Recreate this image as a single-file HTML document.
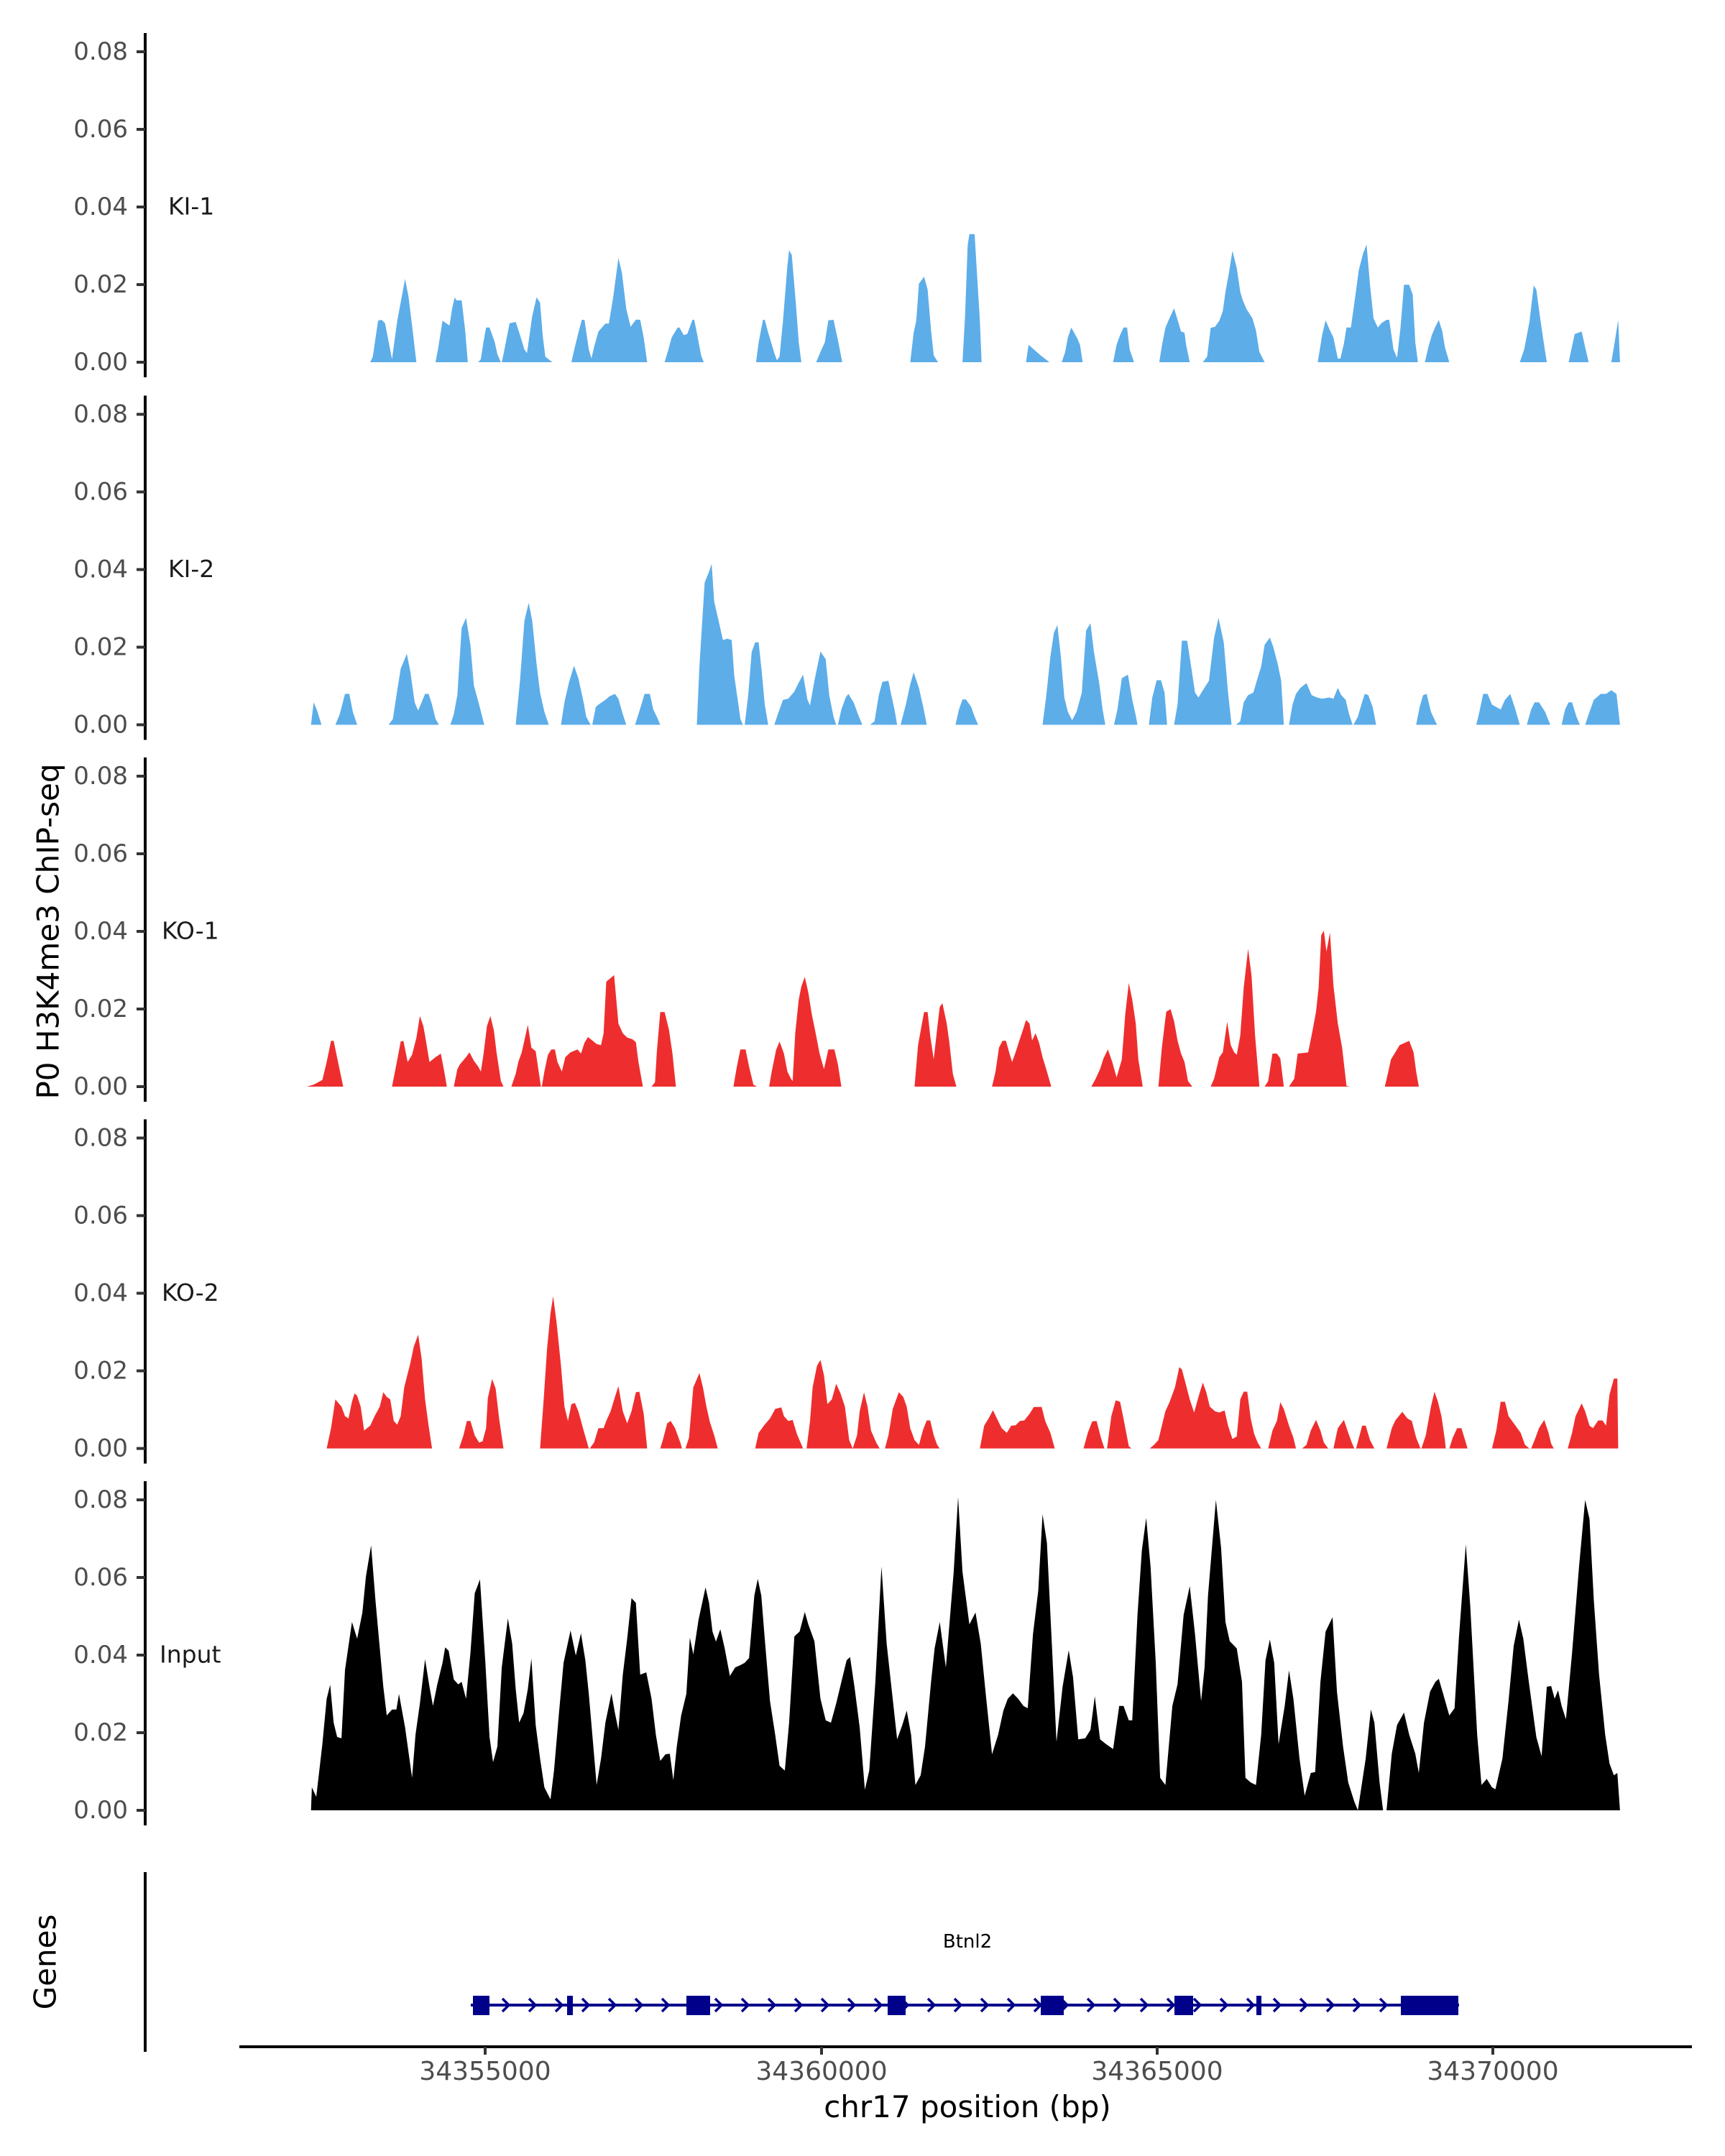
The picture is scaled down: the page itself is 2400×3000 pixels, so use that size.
<!DOCTYPE html>
<html><head><meta charset="utf-8"><style>
html,body{margin:0;padding:0;background:#fff;}
svg{display:block;font-family:"DejaVu Sans","Liberation Sans",sans-serif;}
</style></head><body>
<svg id="s" width="2400" height="3000" viewBox="0 0 2400 3000" xmlns="http://www.w3.org/2000/svg">
<rect width="2400" height="3000" fill="#fff"/>
<g id="data"></g>
<g id="axes"></g>
<text x="67" y="1296" font-size="42" fill="#000" text-anchor="middle" dominant-baseline="central" transform="rotate(-90 67 1296)">P0 H3K4me3 ChIP-seq</text>
<text x="63" y="2730" font-size="42" fill="#000" text-anchor="middle" dominant-baseline="central" transform="rotate(-90 63 2730)">Genes</text>
<line x1="202" y1="2605" x2="202" y2="2855" stroke="#000" stroke-width="4"/>
<line x1="333" y1="2848" x2="2354" y2="2848" stroke="#000" stroke-width="4"/>
<g stroke="#333" stroke-width="4">
<line x1="675" y1="2848" x2="675" y2="2859"/><line x1="1143" y1="2848" x2="1143" y2="2859"/>
<line x1="1610" y1="2848" x2="1610" y2="2859"/><line x1="2077" y1="2848" x2="2077" y2="2859"/>
</g>
<g font-size="36" fill="#4d4d4d" text-anchor="middle">
<text x="675" y="2894">34355000</text><text x="1143" y="2894">34360000</text>
<text x="1610" y="2894">34365000</text><text x="2077" y="2894">34370000</text>
</g>
<text x="1346" y="2946" font-size="42" fill="#000" text-anchor="middle">chr17 position (bp)</text>
<text x="1346" y="2710" font-size="26" fill="#000" text-anchor="middle">Btnl2</text>
<g id="gene"></g>
</svg>
<script>
var NS="http://www.w3.org/2000/svg";
function el(p,t,a){var e=document.createElementNS(NS,t);for(var k in a)e.setAttribute(k,a[k]);p.appendChild(e);return e;}
var zeros=[504,1008.5,1512,2015.5,2519];
var names=["KI-1","KI-2","KO-1","KO-2","Input"];
var lx=[234,234,225,225,222];
var ax=document.getElementById("axes");
zeros.forEach(function(Z,i){
 el(ax,"line",{x1:202,y1:Z-458,x2:202,y2:Z+21,stroke:"#000","stroke-width":4});
 for(var k=0;k<5;k++){var y=Z-k*108;
  el(ax,"line",{x1:190,y1:y,x2:202,y2:y,stroke:"#333","stroke-width":4});
  var t=el(ax,"text",{x:178,y:y,"font-size":34,fill:"#4d4d4d","text-anchor":"end","dominant-baseline":"central"});
  t.textContent=(k*0.02).toFixed(2);}
 var t2=el(ax,"text",{x:lx[i],y:Z-217,"font-size":33,fill:"#1a1a1a","dominant-baseline":"central"});
 t2.textContent=names[i];
});
function P(s){return s.match(/-?\d+(\.\d+)?/g).map(Number);}
function draw(segs,zz,Z,col){
 var g=document.getElementById("data");
 segs.forEach(function(s){var n=P(s);var d="";
  for(var i=0;i<n.length;i+=2){var X=400+n[i]/0.8253,Y=Z-(zz-n[i+1])/3;d+=(i?"L":"M")+X.toFixed(1)+","+Y.toFixed(1);}
  el(g,"path",{d:d+"Z",fill:col});});
}
var BL="#5dade9",RD="#ee2e2e";
draw([
"(95,613),(98,590),(104,440),(108,436),(112,450),(120,600),(126,440),(135,265),(139,340),(144,490),(148,613)",
"(170,613),(173,555),(178,440),(186,460),(189,390),(192,342),(194,355),(200,355),(204,480),(207,613)",
"(219,613),(222,600),(225,530),(228,468),(232,468),(238,530),(241,580),(245,613)",
"(246,613),(248,580),(255,450),(262,445),(267,500),(272,560),(275,575),(281,420),(286,342),(290,365),(293,500),(296,590),(304,613)",
"(326,613),(329,565),(334,490),(338,436),(341,436),(346,560),(349,597),(352,550),(357,485),(365,452),(369,452),(374,340),(380,178),(384,240),(389,390),(394,465),(400,435),(405,436),(409,510),(413,613)",
"(433,613),(437,565),(441,510),(448,468),(450,468),(455,500),(459,495),(465,436),(467,436),(470,490),(475,585),(478,613)",
"(538,613),(541,530),(546,436),(548,436),(552,490),(559,575),(562,605),(565,590),(569,440),(574,210),(576,145),(579,165),(584,380),(587,530),(590,613)",
"(607,613),(612,570),(617,530),(621,438),(627,436),(632,520),(637,613)",
"(715,613),(719,490),(722,440),(725,285),(731,256),(735,310),(739,480),(742,585),(747,613)",
"(775,613),(778,420),(781,125),(783,78),(789,78),(791,200),(795,440),(797,613)",
"(848,613),(851,540),(857,560),(865,585),(875,613)",
"(889,613),(893,570),(896,510),(900,468),(907,515),(910,540),(913,613)",
"(948,613),(952,540),(956,500),(960,468),(964,468),(967,560),(972,613)",
"(1001,613),(1004,545),(1008,470),(1012,435),(1018,388),(1022,435),(1026,485),(1030,490),(1032,545),(1036,613)",
"(1051,613),(1056,590),(1060,470),(1065,465),(1070,440),(1074,400),(1077,320),(1081,240),(1085,148),(1090,220),(1094,320),(1097,355),(1101,390),(1108,430),(1112,480),(1116,570),(1122,613)",
"(1183,613),(1188,500),(1192,438),(1197,480),(1201,510),(1206,598),(1209,598),(1213,535),(1216,468),(1221,468),(1226,340),(1230,230),(1235,160),(1239,122),(1243,290),(1247,430),(1252,468),(1256,450),(1262,436),(1265,436),(1270,560),(1274,595),(1278,470),(1282,290),(1288,290),(1292,330),(1295,530),(1298,613)",
"(1306,613),(1310,550),(1314,500),(1318,465),(1322,437),(1326,485),(1329,550),(1334,613)",
"(1415,613),(1420,560),(1426,445),(1431,292),(1434,310),(1438,420),(1443,545),(1446,613)",
"(1471,613),(1476,530),(1478,495),(1486,485),(1490,550),(1494,613)",
"(1520,613),(1523,550),(1528,437),(1530,613)"],613,zeros[0],BL);
draw([
"(27,684),(30,590),(34,625),(39,684)",
"(55,684),(60,640),(66,555),(71,555),(75,630),(80,684)",
"(116,684),(121,660),(126,540),(130,450),(137,388),(141,460),(146,590),(150,625),(154,590),(158,555),(162,555),(166,600),(170,660),(174,684)",
"(187,684),(191,640),(195,560),(200,280),(205,238),(210,350),(214,520),(220,600),(226,684)",
"(262,684),(267,500),(272,250),(277,175),(281,250),(286,430),(290,550),(295,630),(300,684)",
"(314,684),(318,590),(323,510),(329,437),(334,490),(340,590),(343,650),(348,684)",
"(350,684),(354,610),(357,600),(365,580),(370,565),(376,555),(380,575),(385,640),(389,684)",
"(399,684),(403,640),(408,580),(410,555),(416,555),(420,620),(424,650),(428,684)",
"(470,684),(473,440),(479,90),(484,45),(487,12),(490,170),(495,250),(500,330),(505,325),(510,330),(513,480),(517,580),(520,660),(523,684)",
"(525,684),(529,560),(533,380),(537,340),(541,340),(545,480),(548,600),(552,684)",
"(559,684),(563,640),(569,580),(575,575),(582,545),(586,515),(592,475),(597,580),(600,603),(605,500),(612,378),(618,410),(622,560),(627,650),(630,684)",
"(632,684),(636,620),(641,570),(644,555),(650,590),(655,640),(660,684)",
"(669,684),(674,670),(679,560),(683,505),(690,500),(693,555),(697,620),(700,684)",
"(704,684),(710,600),(715,515),(719,465),(725,530),(730,610),(734,684)",
"(767,684),(771,620),(775,578),(779,578),(785,610),(789,650),(793,684)",
"(867,684),(871,570),(876,400),(880,300),(884,268),(888,400),(892,570),(896,630),(901,665),(906,630),(912,550),(917,290),(922,260),(926,380),(932,510),(936,620),(939,684)",
"(949,684),(953,620),(958,490),(965,475),(970,580),(974,645),(976,684)",
"(989,684),(993,570),(998,498),(1003,498),(1007,550),(1010,684)",
"(1018,684),(1022,600),(1027,333),(1033,333),(1038,450),(1042,550),(1046,570),(1052,535),(1058,500),(1064,320),(1069,238),(1075,340),(1080,550),(1084,684)",
"(1089,684),(1094,670),(1098,590),(1103,560),(1109,550),(1113,500),(1118,440),(1122,350),(1128,320),(1132,360),(1137,430),(1141,500),(1144,684)",
"(1150,684),(1154,600),(1158,555),(1163,530),(1170,510),(1176,560),(1182,570),(1188,575),(1196,570),(1201,575),(1206,530),(1210,560),(1215,580),(1219,640),(1223,684)",
"(1224,684),(1229,650),(1233,600),(1237,555),(1241,560),(1246,610),(1250,684)",
"(1296,684),(1300,610),(1304,560),(1308,555),(1313,630),(1318,670),(1320,684)",
"(1365,684),(1368,640),(1373,555),(1378,555),(1383,600),(1393,620),(1398,580),(1404,555),(1409,610),(1415,684)",
"(1423,684),(1428,620),(1432,590),(1437,590),(1444,630),(1450,684)",
"(1463,684),(1467,620),(1471,590),(1475,590),(1480,650),(1484,684)",
"(1490,684),(1495,630),(1500,580),(1508,555),(1514,555),(1520,540),(1526,555),(1530,684)"],684,zeros[1],BL);
draw([
"(22,663),(30,655),(40,635),(45,560),(50,472),(53,472),(58,560),(64,663)",
"(120,663),(125,570),(130,475),(133,472),(138,560),(143,530),(148,460),(152,368),(156,410),(158,450),(163,560),(170,540),(176,525),(180,600),(183,663)",
"(191,663),(195,590),(198,570),(205,540),(209,520),(214,555),(219,580),(222,600),(225,530),(229,410),(233,368),(237,430),(240,520),(245,640),(248,663)",
"(257,663),(262,610),(265,560),(269,520),(272,470),(276,405),(280,500),(285,515),(288,590),(291,663)",
"(292,663),(295,600),(299,530),(303,508),(307,508),(310,560),(315,600),(319,540),(325,520),(333,508),(337,525),(341,480),(345,456),(350,470),(355,485),(360,490),(363,440),(366,225),(371,210),(375,197),(380,400),(385,440),(390,458),(396,465),(400,478),(403,560),(408,663)",
"(418,663),(422,645),(424,520),(428,352),(433,352),(438,425),(442,525),(445,630),(446,663)",
"(512,663),(516,580),(520,508),(526,508),(530,580),(535,655),(539,663)",
"(553,663),(556,600),(561,510),(565,475),(570,525),(574,600),(578,630),(580,640),(583,440),(587,300),(590,245),(594,205),(598,270),(602,360),(607,450),(611,525),(616,590),(621,508),(628,508),(632,570),(636,663)",
"(720,663),(724,490),(729,390),(731,352),(735,352),(738,450),(742,550),(746,420),(749,330),(752,315),(757,400),(760,480),(764,610),(768,663)",
"(809,663),(813,600),(817,500),(821,472),(825,472),(829,525),(832,560),(836,520),(840,475),(845,420),(848,385),(852,400),(855,470),(859,440),(863,480),(867,540),(872,600),(877,663)",
"(923,663),(928,630),(933,590),(937,545),(942,508),(947,560),(952,625),(958,550),(962,360),(966,230),(970,300),(974,400),(977,550),(982,663)",
"(1000,663),(1004,500),(1009,350),(1014,340),(1018,390),(1022,470),(1026,525),(1030,560),(1034,640),(1039,663)",
"(1060,663),(1064,630),(1070,540),(1074,520),(1079,392),(1083,490),(1087,520),(1090,530),(1094,450),(1098,250),(1103,88),(1107,200),(1111,450),(1116,663)",
"(1122,663),(1126,640),(1131,525),(1136,525),(1140,545),(1144,663)",
"(1150,663),(1156,630),(1160,525),(1168,522),(1172,520),(1177,430),(1181,350),(1184,250),(1187,30),(1190,12),(1193,100),(1197,20),(1201,240),(1206,400),(1211,500),(1216,660),(1220,663)",
"(1260,663),(1264,600),(1267,550),(1272,520),(1277,490),(1283,480),(1288,472),(1293,520),(1296,600),(1299,663)"],663,zeros[2],RD);
draw([
"(45,675),(50,590),(55,470),(62,500),(66,540),(70,550),(74,480),(77,445),(80,455),(84,500),(88,600),(95,580),(100,540),(106,500),(110,440),(114,460),(118,470),(122,560),(126,575),(130,540),(134,420),(141,320),(145,250),(150,200),(154,300),(158,470),(162,580),(166,675)",
"(197,675),(202,620),(206,560),(210,560),(215,620),(220,650),(224,645),(228,590),(230,465),(235,385),(239,425),(243,550),(248,675)",
"(290,675),(294,480),(298,260),(302,110),(305,40),(309,150),(314,330),(318,500),(322,560),(326,490),(330,485),(334,520),(340,600),(346,675)",
"(347,675),(352,650),(357,590),(363,590),(366,560),(371,520),(376,460),(380,415),(385,520),(390,570),(395,520),(400,440),(404,438),(409,530),(413,675)",
"(428,675),(431,640),(436,570),(440,560),(445,590),(451,650),(453,675)",
"(457,675),(461,630),(466,420),(473,360),(477,420),(481,500),(485,565),(490,620),(494,675)",
"(537,675),(541,610),(548,575),(554,550),(560,510),(567,503),(570,540),(575,560),(580,556),(585,615),(592,675)",
"(596,675),(600,560),(603,420),(608,330),(612,305),(616,370),(620,490),(625,470),(630,405),(635,445),(640,500),(645,640),(649,675)",
"(649,675),(654,620),(657,520),(662,440),(666,500),(670,600),(676,650),(680,675)",
"(686,675),(690,620),(695,510),(702,440),(707,460),(711,500),(715,590),(720,640),(725,660),(730,595),(734,558),(738,558),(742,620),(746,660),(749,675)",
"(795,675),(800,580),(805,550),(810,515),(816,560),(820,590),(826,610),(831,580),(836,578),(841,560),(846,558),(852,530),(857,502),(866,502),(870,560),(876,610),(881,675)",
"(914,675),(919,610),(924,562),(929,560),(934,630),(938,675)",
"(941,675),(946,540),(951,474),(956,480),(961,570),(966,665),(969,675)",
"(990,675),(995,660),(1000,640),(1004,580),(1008,520),(1013,480),(1019,420),(1024,335),(1027,345),(1031,400),(1036,470),(1041,525),(1046,460),(1051,400),(1055,440),(1059,500),(1065,520),(1070,525),(1076,516),(1080,580),(1085,635),(1090,625),(1094,470),(1098,438),(1102,438),(1106,550),(1110,615),(1114,650),(1118,675)",
"(1126,675),(1131,600),(1136,560),(1140,482),(1144,510),(1150,580),(1155,630),(1158,675)",
"(1165,675),(1170,660),(1175,600),(1181,556),(1186,600),(1190,650),(1195,675)",
"(1201,675),(1206,590),(1213,556),(1218,610),(1222,650),(1225,675)",
"(1227,675),(1231,620),(1234,580),(1238,580),(1243,640),(1248,675)",
"(1262,675),(1268,590),(1272,558),(1280,522),(1286,550),(1291,560),(1296,630),(1301,675)",
"(1302,675),(1307,620),(1313,500),(1317,438),(1321,480),(1325,540),(1329,640),(1330,675)",
"(1334,675),(1338,630),(1343,590),(1348,590),(1353,650),(1355,675)",
"(1383,675),(1388,600),(1393,480),(1398,480),(1402,540),(1410,580),(1416,610),(1421,660),(1426,675)",
"(1428,675),(1432,640),(1437,590),(1443,556),(1448,610),(1451,655),(1454,675)",
"(1470,675),(1475,610),(1479,540),(1486,487),(1490,520),(1495,580),(1499,590),(1505,558),(1510,558),(1514,580),(1518,450),(1523,383),(1527,383),(1528,675)"],675,zeros[3],RD);
draw([
"(27,1316),(28,1220),(33,1260),(40,1040),(45,850),(49,792),(53,950),(57,1010),(62,1015),(66,730),(74,530),(80,600),(86,490),(90,340),(96,210),(101,440),(105,600),(110,800),(114,920),(120,895),(125,895),(128,830),(135,970),(140,1100),(143,1180),(147,1000),(152,870),(158,685),(163,800),(167,880),(172,790),(178,700),(181,636),(185,650),(191,770),(196,790),(200,780),(205,850),(210,660),(215,410),(221,352),(227,690),(232,1010),(236,1115),(241,1050),(246,720),(253,515),(258,620),(262,810),(266,950),(271,910),(276,810),(280,682),(285,960),(290,1100),(295,1220),(302,1270),(306,1150),(312,900),(317,700),(325,565),(331,670),(337,577),(342,690),(346,830),(350,1000),(355,1210),(360,1100),(365,950),(372,828),(376,910),(380,980),(385,750),(390,600),(395,430),(400,450),(405,750),(412,740),(418,850),(423,1000),(428,1110),(434,1082),(439,1080),(443,1190),(447,1050),(452,920),(458,830),(462,595),(466,665),(472,520),(480,385),(484,450),(488,570),(492,612),(497,560),(502,640),(508,755),(514,720),(520,710),(525,700),(530,680),(536,420),(540,350),(544,420),(548,600),(554,860),(560,1000),(565,1130),(571,1150),(576,950),(582,590),(588,570),(594,488),(598,540),(605,610),(612,850),(618,940),(624,950),(630,870),(636,780),(642,690),(646,676),(651,800),(657,970),(663,1230),(668,1150),(675,780),(682,298),(688,620),(694,820),(700,1020),(706,960),(711,900),(716,1000),(721,1210),(727,1170),(732,1050),(739,780),(743,640),(749,530),(756,720),(760,540),(765,320),(770,8),(775,320),(783,540),(790,490),(796,620),(802,840),(809,1082),(816,1000),(822,900),(827,850),(833,828),(839,850),(845,880),(850,890),(856,580),(862,400),(867,80),(872,200),(878,650),(883,1030),(890,800),(897,648),(902,760),(908,1020),(916,1015),(922,980),(927,840),(933,1020),(940,1040),(948,1060),(955,880),(960,880),(966,940),(970,940),(976,500),(981,230),(986,95),(991,300),(997,700),(1002,1180),(1008,1210),(1016,880),(1022,790),(1029,500),(1036,380),(1042,580),(1049,860),(1053,720),(1057,420),(1066,20),(1072,220),(1077,530),(1082,610),(1090,640),(1096,780),(1100,1180),(1106,1200),(1112,1210),(1118,1000),(1123,690),(1128,603),(1133,700),(1138,1040),(1145,880),(1150,732),(1155,850),(1162,1100),(1168,1255),(1175,1160),(1180,1156),(1186,780),(1192,570),(1200,510),(1205,820),(1212,1050),(1218,1200),(1225,1280),(1229,1316),(1238,1100),(1244,895),(1248,950),(1254,1200),(1258,1316)",
"(1262,1316),(1268,1080),(1274,960),(1282,908),(1288,1000),(1295,1080),(1299,1160),(1305,950),(1312,820),(1318,780),(1322,767),(1327,830),(1334,920),(1340,890),(1345,600),(1353,205),(1358,460),(1366,1000),(1371,1210),(1377,1185),(1383,1220),(1387,1228),(1395,1100),(1402,860),(1408,630),(1414,520),(1419,600),(1425,770),(1434,1010),(1440,1090),(1446,800),(1451,797),(1455,850),(1459,815),(1463,880),(1468,936),(1475,660),(1483,300),(1490,20),(1495,100),(1500,440),(1506,750),(1513,1000),(1518,1120),(1523,1170),(1527,1160),(1530,1316)"],1316,zeros[4],"#000");
var g=document.getElementById("gene"),C="#00008B";
for(var x=667;x<2030;x+=37){el(g,"path",{d:"M"+(x-5)+",2781L"+(x+4)+",2790L"+(x-5)+",2799",stroke:C,"stroke-width":3.5,fill:"none"});}
el(g,"line",{x1:655,y1:2790,x2:2030,y2:2790,stroke:C,"stroke-width":4});
[[658,681],[789,797],[955,988],[1235,1260],[1448,1480],[1634,1660],[1748,1755],[1949,2029]].forEach(function(e){
 el(g,"rect",{x:e[0],y:2777,width:e[1]-e[0],height:27,fill:C});});
</script>
</body></html>
